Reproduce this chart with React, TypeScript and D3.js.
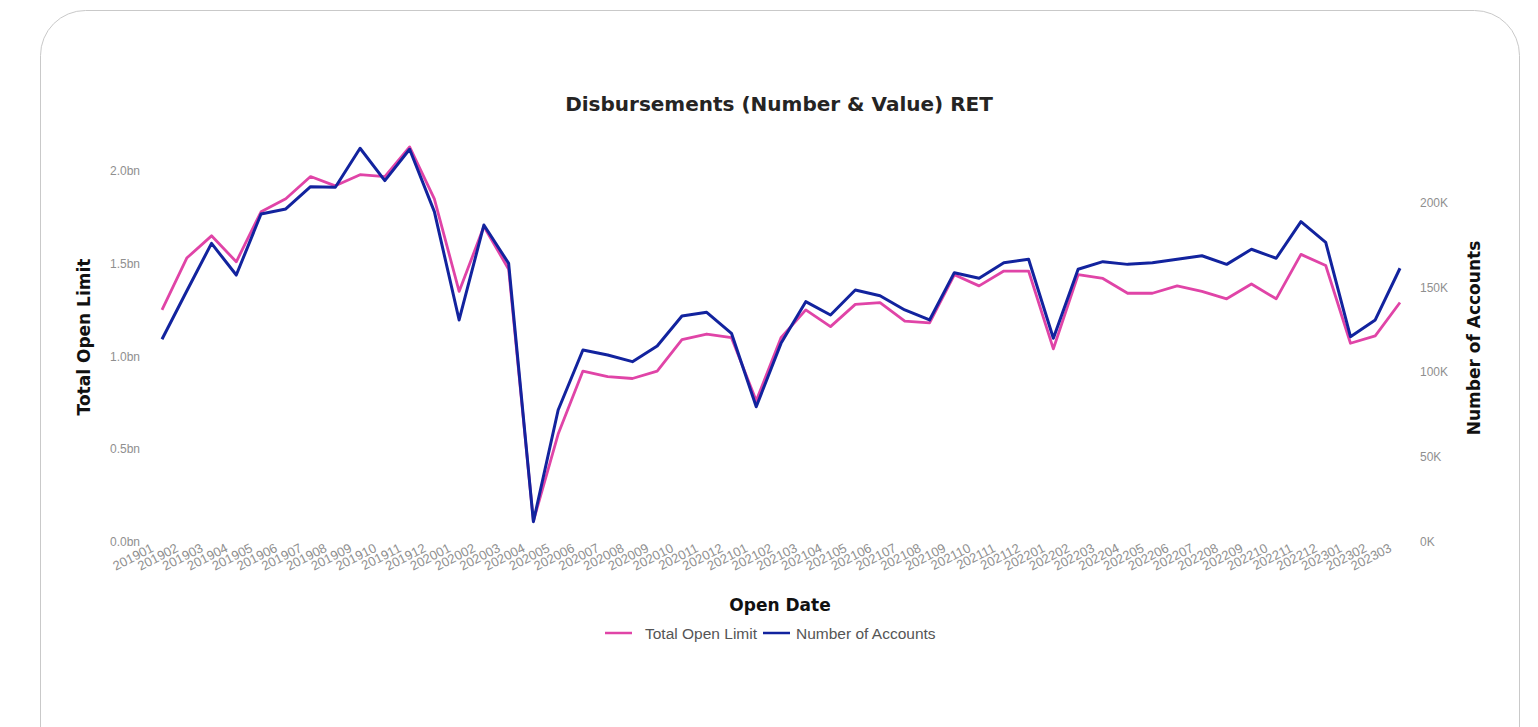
import * as d3 from "d3";
import { useEffect, useRef } from "react";

// months on the x axis
const months = [
  "201901", "201902", "201903", "201904", "201905", "201906", "201907", "201908", "201909", "201910", "201911", "201912",
  "202001", "202002", "202003", "202004", "202005", "202006", "202007", "202008", "202009", "202010", "202011", "202012",
  "202101", "202102", "202103", "202104", "202105", "202106", "202107", "202108", "202109", "202110", "202111", "202112",
  "202201", "202202", "202203", "202204", "202205", "202206", "202207", "202208", "202209", "202210", "202211", "202212",
  "202301", "202302", "202303",
];

// Total Open Limit, in billions
const openLimit = [
  1.25, 1.53, 1.65, 1.51, 1.78, 1.85, 1.97, 1.92, 1.98, 1.97, 2.13, 1.85,
  1.35, 1.70, 1.47, 0.11, 0.58, 0.92, 0.89, 0.88, 0.92, 1.09, 1.12, 1.10,
  0.76, 1.10, 1.25, 1.16, 1.28, 1.29, 1.19, 1.18, 1.44, 1.38, 1.46, 1.46,
  1.04, 1.44, 1.42, 1.34, 1.34, 1.38, 1.35, 1.31, 1.39, 1.31, 1.55, 1.49,
  1.07, 1.11, 1.29,
];

// Number of Accounts, in thousands
const accounts = [
  119.3, 147.8, 175.9, 157.2, 193.2, 196.2, 209.3, 209.0, 232.0, 212.9, 231.4, 194.6,
  130.7, 186.7, 164.1, 11.7, 77.6, 113.0, 110.0, 106.1, 115.3, 133.0, 135.2, 122.8,
  79.5, 116.9, 141.5, 133.6, 148.4, 145.0, 136.6, 130.7, 158.6, 155.3, 164.5, 166.5,
  119.9, 160.6, 165.1, 163.5, 164.5, 166.5, 168.6, 163.5, 172.4, 167.1, 188.7, 176.5,
  120.8, 130.7, 161.2,
];

const leftTicks = [0, 0.5, 1.0, 1.5, 2.0];
const rightTicks = [0, 50, 100, 150, 200];

const seriesNames = ["Total Open Limit", "Number of Accounts"];
const seriesColors = ["#E044A7", "#12239E"];

export default function App() {
  const svgRef = useRef(null);

  useEffect(() => {
    const width = 1538;
    const height = 727;
    const svg = d3.select(svgRef.current).attr("width", width).attr("height", height);
    svg.selectAll("*").remove();

    //card
    svg
      .append("rect")
      .attr("x", 40.5)
      .attr("y", 10.5)
      .attr("width", 1479)
      .attr("height", 780)
      .attr("rx", 45)
      .attr("fill", "#fff")
      .attr("stroke", "#c9c9c9")
      .attr("stroke-width", 1);

    //scales
    const x = d3.scalePoint().domain(months).range([162, 1400]);
    const yLeft = d3.scaleLinear().domain([0, 2]).range([541.5, 171]);
    const yRight = d3.scaleLinear().domain([0, 200]).range([541.5, 202.5]);

    const tickFont = "'Liberation Sans', Arial, sans-serif";
    const boldFont = "'DejaVu Sans', sans-serif";

    //left axis
    const leftAxis = d3
      .axisLeft(yLeft)
      .tickValues(leftTicks)
      .tickSize(0)
      .tickPadding(0)
      .tickFormat((d) => d.toFixed(1) + "bn");
    const gl = svg.append("g").attr("transform", "translate(140,0)").call(leftAxis);
    gl.select(".domain").remove();
    gl.selectAll("text").attr("fill", "#8f8f8f").style("font", `12px ${tickFont}`);

    //right axis
    const rightAxis = d3
      .axisRight(yRight)
      .tickValues(rightTicks)
      .tickSize(0)
      .tickPadding(0)
      .tickFormat((d) => d + "K");
    const gr = svg.append("g").attr("transform", "translate(1420,0)").call(rightAxis);
    gr.select(".domain").remove();
    gr.selectAll("text").attr("fill", "#8f8f8f").style("font", `12px ${tickFont}`);

    //x axis
    const xAxis = d3.axisBottom(x).tickSize(0).tickPadding(0);
    const gx = svg.append("g").call(xAxis);
    gx.select(".domain").remove();
    gx.selectAll("text")
      .attr("fill", "#8f8f8f")
      .style("font", `13px ${tickFont}`)
      .attr("text-anchor", "end")
      .attr("dy", 0)
      .attr("y", 0)
      .attr("transform", "translate(-8,551) rotate(-27)");

    //lines
    const lineLeft = d3
      .line()
      .x((d, i) => x(months[i]))
      .y((d) => yLeft(d));
    const lineRight = d3
      .line()
      .x((d, i) => x(months[i]))
      .y((d) => yRight(d));

    svg
      .append("path")
      .datum(openLimit)
      .attr("d", lineLeft)
      .attr("fill", "none")
      .attr("stroke", seriesColors[0])
      .attr("stroke-width", 2.8)
      .attr("stroke-linejoin", "round");
    svg
      .append("path")
      .datum(accounts)
      .attr("d", lineRight)
      .attr("fill", "none")
      .attr("stroke", seriesColors[1])
      .attr("stroke-width", 3)
      .attr("stroke-linejoin", "round");

    //titles
    svg
      .append("text")
      .attr("x", 779)
      .attr("y", 111)
      .attr("text-anchor", "middle")
      .attr("fill", "#252423")
      .style("font", `bold 20px ${boldFont}`)
      .text("Disbursements (Number & Value) RET");
    svg
      .append("text")
      .attr("transform", "translate(90,337) rotate(-90)")
      .attr("text-anchor", "middle")
      .attr("fill", "#111")
      .style("font", `bold 17px ${boldFont}`)
      .text("Total Open Limit");
    svg
      .append("text")
      .attr("transform", "translate(1480,338) rotate(-90)")
      .attr("text-anchor", "middle")
      .attr("fill", "#111")
      .style("font", `bold 17px ${boldFont}`)
      .text("Number of Accounts");
    svg
      .append("text")
      .attr("x", 780)
      .attr("y", 611)
      .attr("text-anchor", "middle")
      .attr("fill", "#111")
      .style("font", `bold 17px ${boldFont}`)
      .text("Open Date");

    //legend
    const legend = svg.append("g");
    const legendX = [605, 763];
    const textX = [645, 796];
    seriesNames.forEach((name, i) => {
      legend
        .append("line")
        .attr("x1", legendX[i])
        .attr("x2", legendX[i] + 27)
        .attr("y1", 633)
        .attr("y2", 633)
        .attr("stroke", seriesColors[i])
        .attr("stroke-width", 2.5);
      legend
        .append("text")
        .attr("x", textX[i])
        .attr("y", 638.5)
        .attr("fill", "#555")
        .style("font", `15.5px ${tickFont}`)
        .text(name);
    });
  }, []);

  return <svg ref={svgRef} style={{ position: "absolute", left: 0, top: 0, display: "block" }}></svg>;
}
